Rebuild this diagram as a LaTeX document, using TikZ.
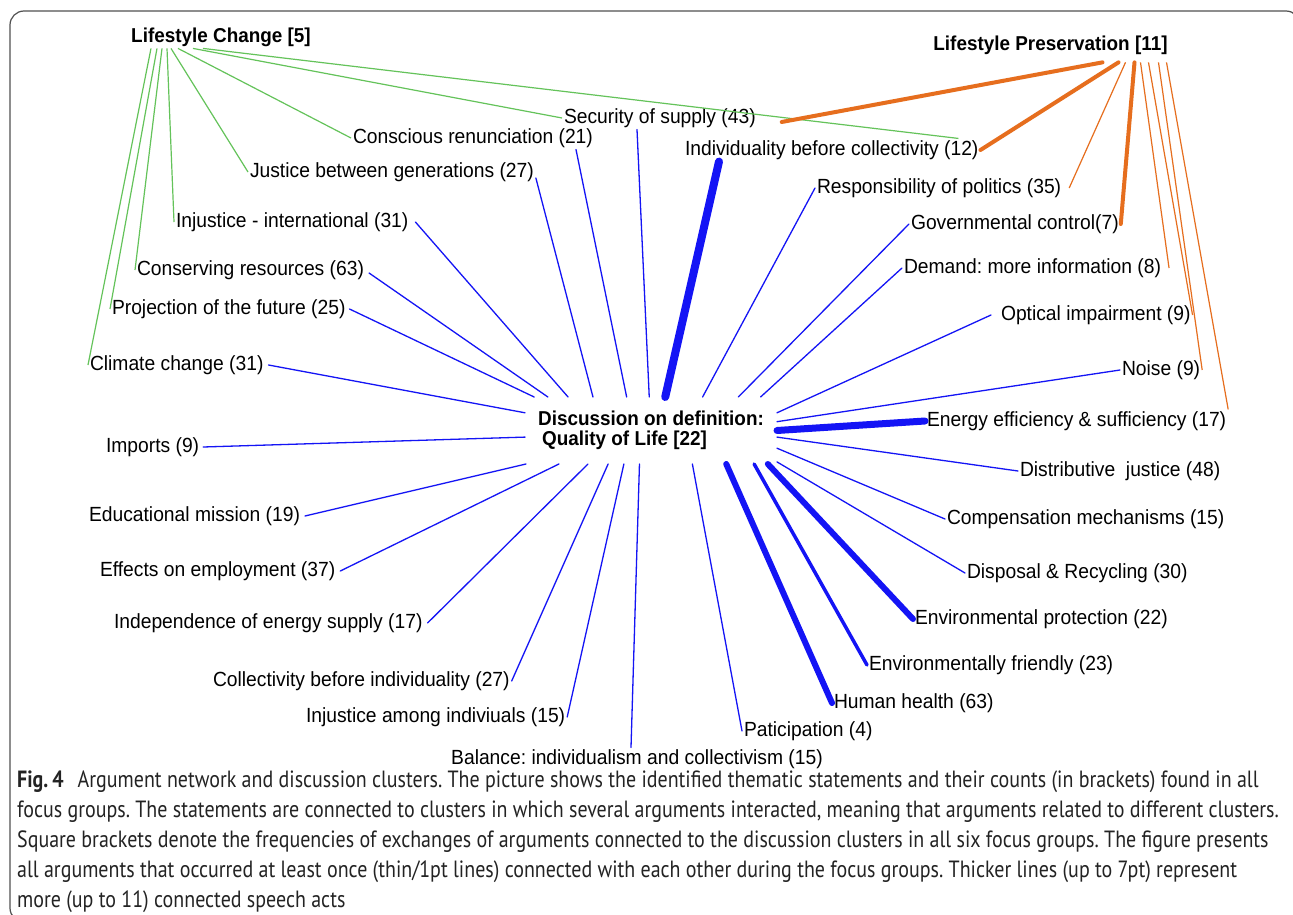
\documentclass[tikz,border=0pt]{standalone}
\usepackage{fontspec}
\setmainfont[FakeStretch=0.94]{Liberation Sans}
\newfontfamily\capfont[FakeStretch=0.85]{PT Sans}
\usetikzlibrary{calc}
\definecolor{qblue}{RGB}{20,20,245}
\definecolor{qgreen}{RGB}{100,195,90}
\definecolor{qorange}{RGB}{230,110,30}
\definecolor{qframe}{RGB}{80,80,80}
\definecolor{qcap}{RGB}{35,35,35}
\tikzset{
  lab/.style={anchor=west,inner sep=2pt,outer sep=0pt,font=\fontsize{20.5pt}{23pt}\selectfont},
  labc/.style={inner sep=2pt,outer sep=0pt,font=\fontsize{20.5pt}{23pt}\selectfont},
  hd/.style={inner sep=2pt,outer sep=0pt,font=\bfseries\fontsize{20.1pt}{23pt}\selectfont},
  captxt/.style={anchor=west,inner sep=0pt,text=qcap,font=\capfont\fontsize{23.5pt}{28pt}\selectfont},
  bl/.style={draw=qblue,line width=1.3pt,line cap=round},
  gl/.style={draw=qgreen,line width=1.2pt},
  ol/.style={draw=qorange,line width=1.2pt},
  olt/.style={draw=qorange,line width=4pt,line cap=round},
}
\frenchspacing
\begin{document}
\begin{tikzpicture}[x=1pt,y=-1pt]
\useasboundingbox (0,0) rectangle (1293,915);
\fill[white] (0,0) rectangle (1293,915);
\begin{scope}
\clip (0,0) rectangle (1293,915);
\draw[qframe,line width=1.2pt,rounded corners=14pt] (10,11) rectangle (1300,922);
\end{scope}

% headers and centre
\node[hd] (LC) at (221,37) {Lifestyle Change [5]};
\node[hd] (LP) at (1050.5,45) {Lifestyle Preservation [11]};
\node[minimum width=252pt,minimum height=67pt,inner sep=0pt,outer sep=0pt,align=left,
      font=\bfseries\fontsize{20.1pt}{20.5pt}\selectfont] (Q) at (651,430.5)
      {Discussion on definition:\\\hspace*{4pt}Quality of Life [22]};

% labels
\node[lab] (sec) at (562,118) {Security of supply (43)};
\node[lab] (cr) at (351,138) {Conscious renunciation (21)};
\node[lab] (ibc) at (683,150) {Individuality before collectivity (12)};
\node[lab] (jb) at (248,172) {Justice between generations (27)};
\node[lab] (rp) at (815,188) {Responsibility of politics (35)};
\node[lab] (ii) at (174,222) {Injustice - international (31)};
\node[lab] (gc) at (909,224) {Governmental control(7)};
\node[lab] (cres) at (135,270) {Conserving resources (63)};
\node[lab] (dmi) at (902,268) {Demand: more information (8)};
\node[lab] (pf) at (110,309) {Projection of the future (25)};
\node[lab] (oi) at (999,315) {Optical impairment (9)};
\node[lab] (cc) at (88,365) {Climate change (31)};
\node[lab] (noi) at (1120,370) {Noise (9)};
\node[lab] (eff) at (925,421) {Energy efficiency \& sufficiency (17)};
\node[lab] (im) at (104,447) {Imports (9)};
\node[lab] (dj) at (1018,471) {Distributive\ \ justice (48)};
\node[lab] (em) at (87,516) {Educational mission (19)};
\node[lab] (cm) at (945,519) {Compensation mechanisms (15)};
\node[lab] (ee) at (98,571) {Effects on employment (37)};
\node[lab] (dr) at (965,573) {Disposal \& Recycling (30)};
\node[lab] (ies) at (112,623) {Independence of energy supply (17)};
\node[lab] (ep) at (913,619) {Environmental protection (22)};
\node[lab] (ef) at (867,665) {Environmentally friendly (23)};
\node[lab] (cbi) at (211,681) {Collectivity before individuality (27)};
\node[lab] (hh) at (832,703) {Human health (63)};
\node[lab] (iai) at (304,717) {Injustice among indiviuals (15)};
\node[lab] (pa) at (742,731) {Paticipation (4)};
\node[labc] (bal) at (637,759) {Balance: individualism and collectivism (15)};

% green: Lifestyle Change
\draw[gl] ([xshift=-70pt]LC.south) -- (cc.west);
\draw[gl] ([xshift=-64pt]LC.south) -- (pf.west);
\draw[gl] ([xshift=-59pt]LC.south) -- (cres.west);
\draw[gl] ([xshift=-54pt]LC.south) -- (ii.west);
\draw[gl] ([xshift=-50pt]LC.south) -- (jb.west);
\draw[gl] ([xshift=-43pt]LC.south) -- (cr.west);
\draw[gl] ([xshift=-28pt]LC.south) -- (sec.west);
\draw[gl] ([xshift=-18pt]LC.south) -- ([xshift=-22pt]ibc.north east);

% orange: Lifestyle Preservation
\draw[olt] ([xshift=52pt,yshift=-6pt]LP.south) -- ([xshift=24pt,yshift=-4pt]sec.east);
\draw[olt] ([xshift=68pt,yshift=-6pt]LP.south) -- (ibc.east);
\draw[ol] ([xshift=75pt,yshift=-6pt]LP.south) -- ([xshift=6pt]rp.east);
\draw[olt] ([xshift=84pt,yshift=-6pt]LP.south) -- (gc.east);
\draw[ol] ([xshift=90pt,yshift=-6pt]LP.south) -- ([xshift=6pt]dmi.east);
\draw[ol] ([xshift=98pt,yshift=-6pt]LP.south) -- (oi.east);
\draw[ol] ([xshift=108pt,yshift=-6pt]LP.south) -- (noi.east);
\draw[ol] ([xshift=116pt,yshift=-6pt]LP.south) -- (eff.north east);

% blue: discussion on definition
\draw[bl] ([xshift=75pt]sec.south west) -- (Q.93.4);
\draw[bl] ([xshift=225pt]cr.south west) -- (Q.126.7);
\draw[bl] ([yshift=-6pt]jb.east) -- (Q.150.8);
\draw[bl] ([xshift=5pt]ii.east) -- (Q.158.9);
\draw[bl] ([xshift=3pt,yshift=-3pt]cres.east) -- (Q.162);
\draw[bl] ([xshift=2pt]pf.east) -- (Q.164.9);
\draw[bl] ([xshift=3pt]cc.east) -- (Q.172.1);
\draw[bl] ([xshift=2pt]im.east) -- (Q.-177);
\draw[bl] ([xshift=3pt]em.east) -- (Q.-165.5);
\draw[bl] ([xshift=3pt]ee.east) -- (Q.-160.2);
\draw[bl] ([xshift=3pt]ies.east) -- (Q.-152.4);
\draw[bl] (cbi.east) -- (Q.-142.7);
\draw[bl] (iai.east) -- (Q.-129.9);
\draw[bl] ([xshift=-6pt]bal.north) -- (Q.-109.7);
\draw[bl] (pa.west) -- (Q.-39.9);
\draw[bl,line width=6pt] (hh.west) -- (Q.-24.7);
\draw[bl,line width=3.5pt] (ef.west) -- (Q.-18.9);
\draw[bl,line width=6pt] (ep.west) -- (Q.-16.4);
\draw[bl] (dr.west) -- (Q.-14.5);
\draw[bl] (cm.west) -- (Q.-8.3);
\draw[bl] (dj.west) -- (Q.-3.4);
\draw[bl,line width=7pt] (eff.west) -- (Q.0.2);
\draw[bl] (noi.west) -- (Q.4.8);
\draw[bl] ([xshift=-8pt]oi.west) -- (Q.8.8);
\draw[bl] (dmi.west) -- (Q.17.7);
\draw[bl] (gc.west) -- (Q.21.5);
\draw[bl] (rp.west) -- (Q.33.3);
\draw[bl,line width=8pt] ([xshift=36pt]ibc.south west) -- (Q.67.3);

% caption
\node[captxt] (c1) at (17,782) {{\bfseries Fig.\,4}\hspace{0.6em}Argument network and discussion clusters. The picture shows the identified thematic statements and their counts (in brackets) found in all};
\node[captxt] (c2) at (17,812) {focus groups. The statements are connected to clusters in which several arguments interacted, meaning that arguments related to different clusters.};
\node[captxt] (c3) at (17,842) {Square brackets denote the frequencies of exchanges of arguments connected to the discussion clusters in all six focus groups. The figure presents};
\node[captxt] (c4) at (17,872) {all arguments that occurred at least once (thin/1pt lines) connected with each other during the focus groups. Thicker lines (up to 7pt) represent};
\node[captxt] (c5) at (17,902) {more (up to 11) connected speech acts};
\end{tikzpicture}
\end{document}
